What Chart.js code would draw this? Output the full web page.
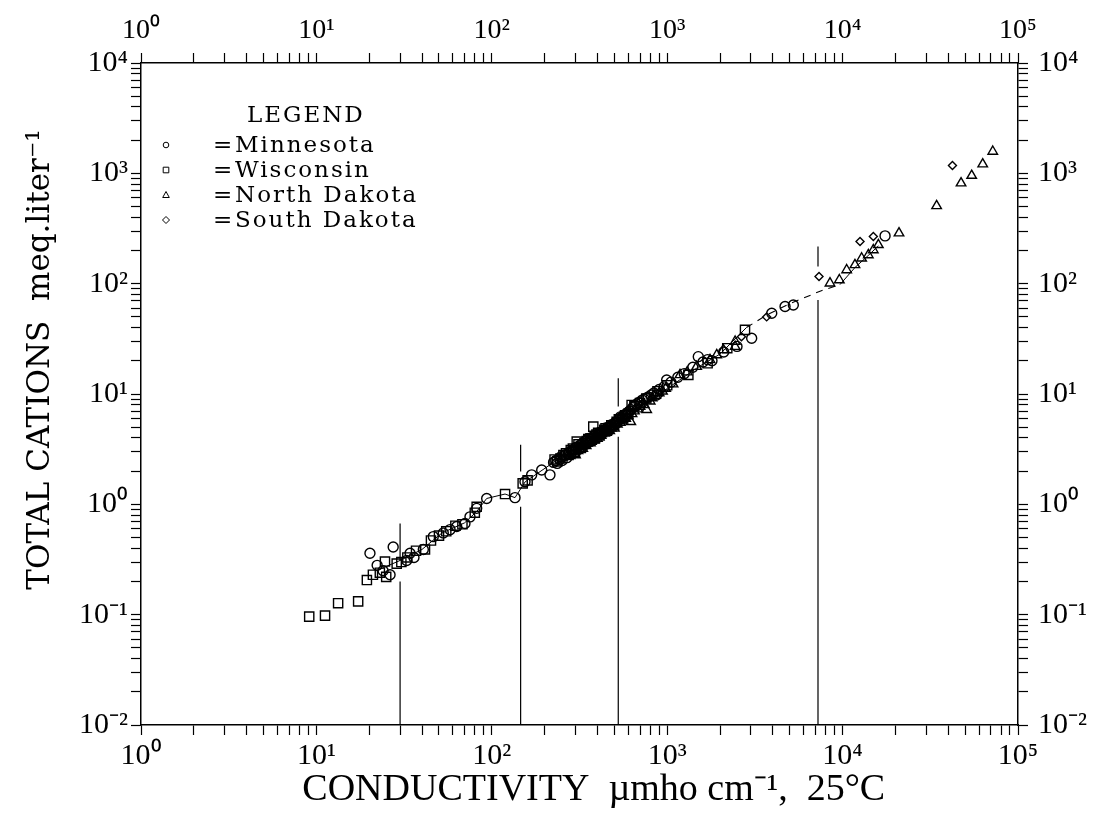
<!DOCTYPE html>
<html><head><meta charset="utf-8">
<script src="https://cdn.jsdelivr.net/npm/chart.js@4.4.0/dist/chart.umd.min.js"></script>
<style>html,body{margin:0;padding:0;background:#fff}#wrap{width:1095px;height:813px}</style>
</head><body><div id="wrap"><canvas id="c" width="1095" height="813"></canvas></div>
<script>
// ---- tick labels ----
const xTickLabels = ['10⁰','10¹','10²','10³','10⁴','10⁵'];
const yTickLabels = ['10⁻²','10⁻¹','10⁰','10¹','10²','10³','10⁴'];
const seriesNames = ['Minnesota','Wisconsin','North Dakota','South Dakota'];

// ---- series: [conductivity, total cations] ----
const minnesota = [[20.2,0.36],[22.2,0.28],[24.0,0.25],[26.3,0.23],[27.4,0.41],[32.7,0.31],[34.2,0.36],[36,0.33],[40.7,0.39],[46.4,0.51],[52.9,0.55],[57.8,0.59],[63.1,0.63],[70.3,0.67],[75.1,0.77],[82,0.92],[93.5,1.13],[135.6,1.15],[154.6,1.60],[168.8,1.85],[192.5,2.05],[214.6,1.85],[225,2.4],[232,2.5],[236,2.35],[244,2.55],[248,2.7],[252,2.5],[258,2.75],[262,2.8],[268,2.65],[274,2.9],[278,3.0],[288,3.0],[293,3.1],[296,2.95],[300,3.25],[304,3.3],[312,3.15],[316,3.4],[320,3.3],[325,3.5],[330,3.6],[338,3.45],[342,3.7],[346,3.6],[350,3.8],[356,3.95],[364,3.7],[370,4.0],[375,3.9],[380,4.1],[386,4.2],[398,4.0],[405,4.35],[410,4.3],[418,4.5],[424,4.45],[430,4.6],[436,4.7],[445,4.8],[452,4.7],[460,5.0],[466,4.95],[475,5.1],[482,5.2],[490,5.3],[498,5.2],[505,5.5],[512,5.4],[520,5.6],[528,5.8],[540,6.2],[550,6.0],[560,6.3],[572,6.5],[585,6.6],[596,6.8],[610,7.0],[622,7.2],[640,7.6],[655,7.9],[670,8.1],[690,8.4],[720,8.8],[740,9.0],[764,9.2],[780,9.4],[810,9.8],[840,10.2],[871,9.8],[900,11.0],[960,11.6],[993,13.4],[1050,12.8],[1150,14.2],[1250,15.3],[1400,17.5],[1504,21.8],[1600,19.5],[1700,20.5],[1800,20.0],[2100,24],[2500,27],[3031,32],[3944,54],[4697,62],[5236,64],[17460,271]];
const wisconsin = [[9.1,0.096],[11.2,0.098],[13.3,0.127],[17.3,0.132],[19.4,0.206],[21,0.23],[23,0.24],[24.6,0.303],[25,0.22],[28.7,0.29],[30.5,0.30],[33,0.33],[37,0.38],[41.6,0.39],[45,0.47],[50,0.52],[55,0.57],[62,0.64],[68,0.66],[80,0.84],[82,0.95],[119,1.24],[150,1.55],[160,1.65],[228,2.55],[236,2.45],[246,2.6],[256,2.8],[265,2.9],[274,2.8],[282,3.1],[290,3.2],[298,3.0],[305,3.7],[312,3.5],[322,3.25],[338,3.6],[348,3.75],[355,3.9],[364,3.95],[372,3.85],[379,5.06],[385,4.0],[395,4.3],[404,4.45],[412,4.3],[425,4.5],[438,4.75],[445,4.9],[452,4.65],[465,4.95],[480,5.2],[498,5.25],[515,5.6],[530,5.9],[555,6.0],[575,6.4],[600,6.6],[627,7.96],[650,7.8],[700,8.3],[760,9.1],[880,10.6],[1000,12],[1320,14.9],[1700,19],[2200,26],[2777,38.1]];
const northDakota = [[280,2.75],[300,2.8],[310,3.05],[330,3.2],[345,3.4],[365,3.6],[385,3.8],[400,3.95],[410,4.05],[420,4.2],[440,4.4],[455,4.55],[470,4.65],[480,4.9],[500,4.9],[520,5.3],[540,5.5],[560,5.8],[580,6.0],[600,6.3],[620,5.6],[630,6.6],[650,7.0],[680,7.3],[700,7.7],[740,8.0],[764,7.2],[800,8.6],[820,9.2],[860,9.7],[900,10.2],[940,10.6],[980,11.2],[1080,12.3],[1183,14.9],[1300,15.8],[1472,17.7],[1754,20.4],[1916,22.6],[2090,25.1],[2440,26.9],[2440,29.9],[8475,101],[9580,108],[10550,133],[11760,148],[12840,170],[14020,182],[14970,202],[15990,225],[20970,287],[34360,507],[47350,815],[54450,955],[62930,1211],[71800,1578]];
const southDakota = [[2650,33],[3690,50],[7337,116],[12570,241],[14970,267],[42300,1178]];

// ---- fitted curve (solid / dashed / solid) ----
const curveSolid = [[22,0.25],[30,0.31],[40,0.39],[52,0.55],[70,0.68],[82,0.86],[93.5,1.13],[119,1.24],[135.6,1.15],[155,1.6],[225,2.4],[380,4.0],[540,5.9],[760,8.4],[1000,11.2],[1500,17.5],[2000,23],[2830,40]];
const curveDashed = [[2830,40],[3700,52],[5000,66],[6240,76],[7500,86],[9660,98]];
const curveSolid2 = [[9660,98],[11760,140],[14000,180],[16000,220]];

// ---- vertical range markers ----
const boundaryX = [30, 146, 526, 7240];
const boundaryGapBottom = [0.20, 0.95, 4.1, 71];
const boundaryGapTop = [0.31, 1.98, 7.7, 143];
const boundaryTop = [0.67, 3.46, 13.9, 217];

const toPts = a => a.map(([x,y]) => ({x, y}));
const decadeTicks = (e0, e1) => { const t = []; for (let e = e0; e < e1; e++) for (let m = 1; m <= 9; m++) t.push({value: +(m * Math.pow(10, e)).toPrecision(6)}); t.push({value: Math.pow(10, e1)}); return t; };
const labelFor = (v, labels, e0) => { const e = Math.log10(v); const r = Math.round(e); return Math.abs(e - r) < 1e-6 ? labels[r - e0] : ''; };

const mk = (label, data, style, r) => ({type:'scatter', label, data: toPts(data), pointStyle: style, pointRadius: r, pointHoverRadius: r, pointBorderColor:'#000', pointBackgroundColor:'rgba(0,0,0,0)', pointBorderWidth:1.4, showLine:false});
const lineDs = (data, dash, w) => ({type:'line', data: toPts(data), borderColor:'#000', borderWidth: w, borderDash: dash, pointRadius:0, fill:false, tension:0, spanGaps:false});

const datasets = [
  mk(seriesNames[0], minnesota, 'circle', 5),
  mk(seriesNames[1], wisconsin, 'rect', 6.5),
  mk(seriesNames[2], northDakota, 'triangle', 5.5),
  mk(seriesNames[3], southDakota, 'rectRot', 4),
  lineDs(curveSolid, [], 1),
  lineDs(curveDashed, [7,6], 1.1),
  lineDs(curveSolid2, [], 1),
];
boundaryX.forEach((bx, i) => {
  datasets.push(lineDs([[bx,0.01],[bx,boundaryGapBottom[i]],[bx,null],[bx,boundaryGapTop[i]],[bx,boundaryTop[i]]], [], 1.2));
});

const legendPlugin = {
  id: 'stateLegend',
  afterDraw(chart) {
    const ctx = chart.ctx;
    ctx.save();
    ctx.fillStyle = '#000'; ctx.strokeStyle = '#000'; ctx.lineWidth = 1;
    ctx.font = '23px "DejaVu Serif"';
    if ('letterSpacing' in ctx) ctx.letterSpacing = '2px';
    ctx.textBaseline = 'alphabetic';
    ctx.fillText('LEGEND', 247, 122);
    const styles = ['circle','rect','triangle','rectRot'];
    seriesNames.forEach((name, i) => {
      const y = 152 + i * 25, cx = 166, cy = y - 7;
      ctx.beginPath();
      if (styles[i] === 'circle') ctx.arc(cx, cy, 2.8, 0, Math.PI * 2);
      else if (styles[i] === 'rect') ctx.rect(cx - 2.8, cy - 2.8, 5.6, 5.6);
      else if (styles[i] === 'triangle') { ctx.moveTo(cx, cy - 3.5); ctx.lineTo(cx + 3.3, cy + 2.5); ctx.lineTo(cx - 3.3, cy + 2.5); ctx.closePath(); }
      else { ctx.moveTo(cx, cy - 3.5); ctx.lineTo(cx + 3.5, cy); ctx.lineTo(cx, cy + 3.5); ctx.lineTo(cx - 3.5, cy); ctx.closePath(); }
      ctx.stroke();
      ctx.fillText('=', 213, y);
      ctx.fillText(name, 235, y);
    });
    ctx.restore();
  }
};

const tickFont = (s, fam) => ({family: fam || 'Liberation Serif', size: s});
const gridOpts = {drawOnChartArea:false, drawTicks:true, tickLength:10, tickColor:'#000', tickWidth:1.2};
const borderOpts = {display:true, color:'#000', width:1.5};

new Chart(document.getElementById('c'), {
  data: {datasets},
  options: {
    responsive:false, animation:false, devicePixelRatio:1,
    layout:{padding:0},
    plugins:{legend:{display:false}, tooltip:{enabled:false}},
    events:[],
    scales:{
      x:{type:'logarithmic', position:'bottom', min:1, max:1e5,
        afterBuildTicks: s => { s.ticks = decadeTicks(0,5); },
        afterFit: s => { s.height = 88; },
        ticks:{autoSkip:false, maxRotation:0, minRotation:0, padding:3, color:'#000', font:tickFont(30), callback: v => labelFor(v, xTickLabels, 0)},
        grid:gridOpts, border:borderOpts,
        title:{display:true, text:'   CONDUCTIVITY  µmho cm⁻¹,  25°C', color:'#000', font:tickFont(38), padding:{top:0, bottom:0}}},
      x2:{type:'logarithmic', position:'top', min:1, max:1e5,
        afterBuildTicks: s => { s.ticks = decadeTicks(0,5); },
        afterFit: s => { s.height = 63; },
        ticks:{autoSkip:false, maxRotation:0, minRotation:0, padding:6, color:'#000', font:tickFont(28), callback: v => labelFor(v, xTickLabels, 0)},
        grid:gridOpts, border:borderOpts},
      y:{type:'logarithmic', position:'left', min:0.01, max:1e4,
        afterBuildTicks: s => { s.ticks = decadeTicks(-2,4); },
        afterFit: s => { s.width = 141; },
        ticks:{autoSkip:false, padding:3, color:'#000', font:tickFont(30), callback: v => labelFor(v, yTickLabels, -2)},
        grid:gridOpts, border:borderOpts,
        title:{display:true, text:'       TOTAL CATIONS  meq.liter⁻¹', color:'#000', font:tickFont(31,'DejaVu Serif'), padding:{top:22, bottom:0}}},
      y2:{type:'logarithmic', position:'right', min:0.01, max:1e4,
        afterBuildTicks: s => { s.ticks = decadeTicks(-2,4); },
        afterFit: s => { s.width = 77; },
        ticks:{autoSkip:false, padding:10, color:'#000', font:tickFont(30), callback: v => labelFor(v, yTickLabels, -2)},
        grid:gridOpts, border:borderOpts}
    }
  },
  plugins:[legendPlugin]
});
</script></body></html>
